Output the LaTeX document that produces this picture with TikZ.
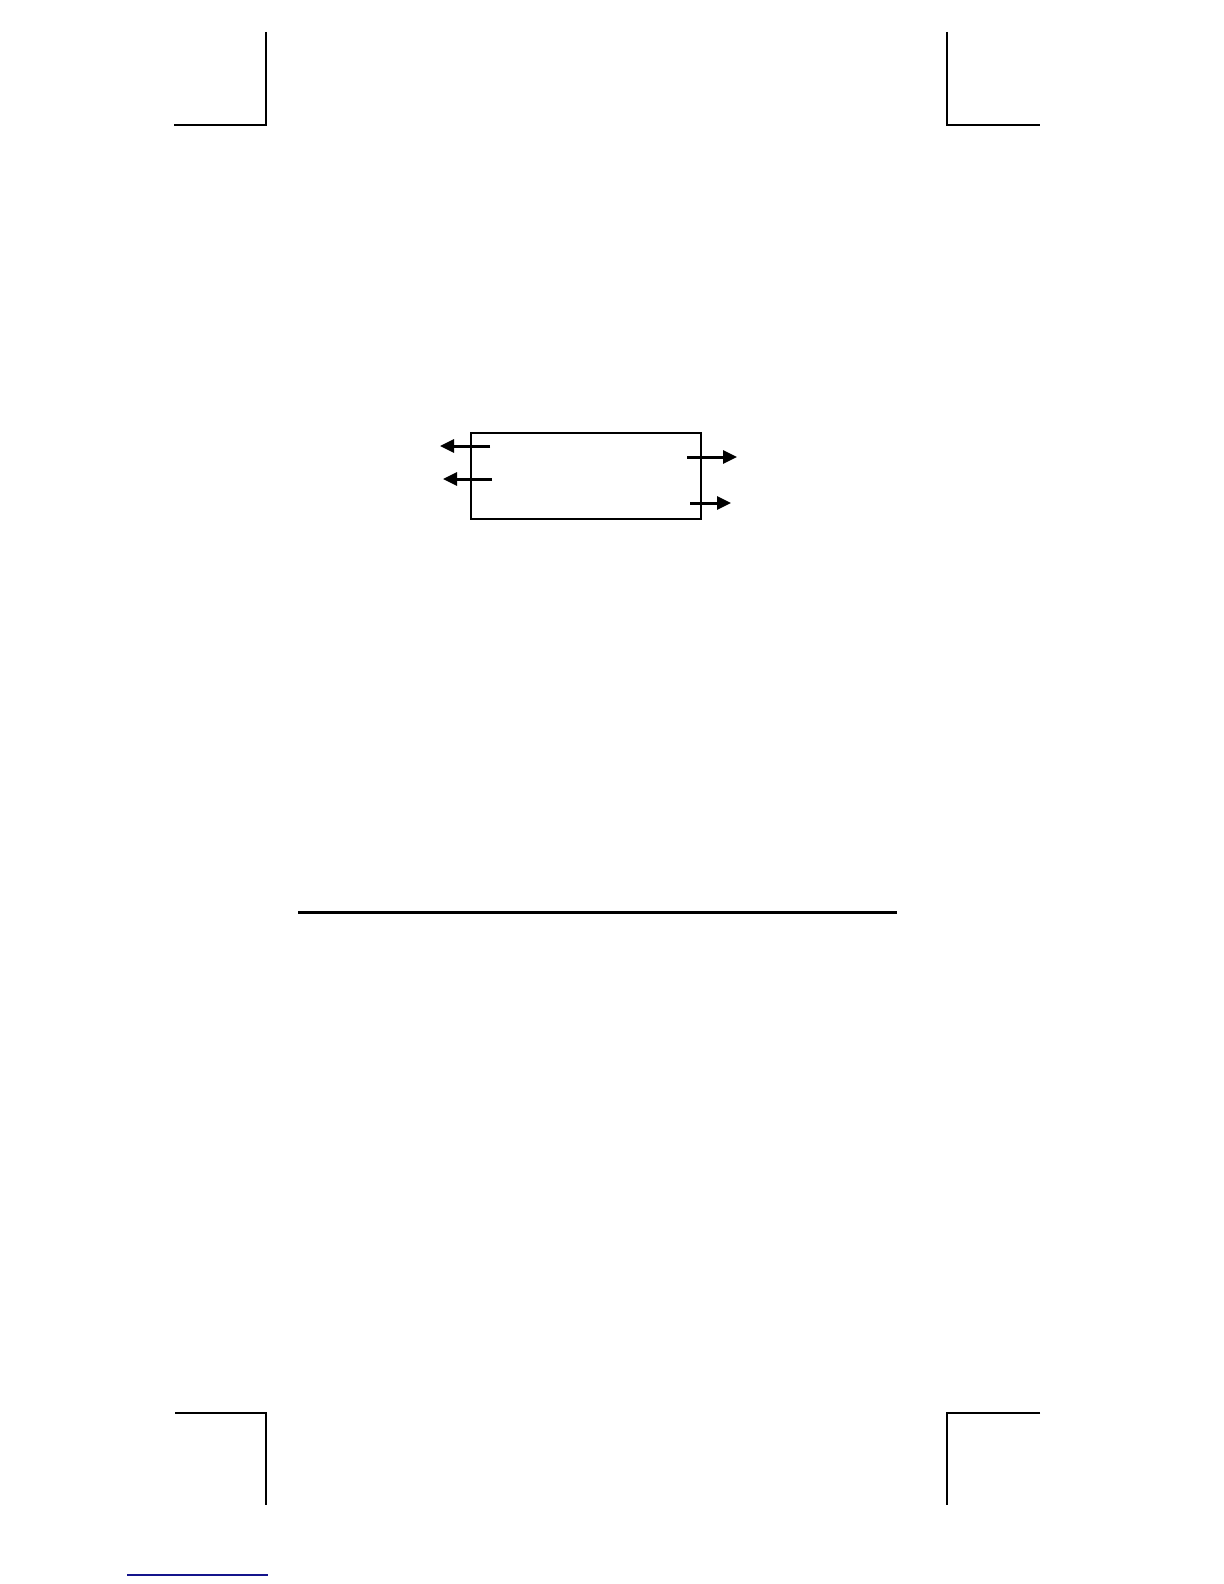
\documentclass[tikz,border=0pt]{standalone}
\usetikzlibrary{arrows.meta}
\definecolor{linkblue}{RGB}{20,20,140}
\begin{document}
\begin{tikzpicture}[x=0.5pt,y=-0.5pt,
  crop/.style={line width=1pt},
  flow/.style={line width=1.5pt,-{Triangle[length=7pt,width=6.5pt]}},
  panel/.style={draw,line width=0.75pt,minimum width=115pt,minimum height=43pt,inner sep=0pt}]
\useasboundingbox (0,0) rectangle (1224,1584);
% crop marks
\draw[crop] (266,32) -- (266,125) -- (174,125);
\draw[crop] (947,32) -- (947,125) -- (1040,125);
\draw[crop] (175,1413) -- (266,1413) -- (266,1505);
\draw[crop] (1040,1413) -- (947,1413) -- (947,1505);
% box
\node[panel] (box) at (586,476) {};
% arrows
\coordinate (l1s) at (490,446); \coordinate (l1e) at (440,446);
\coordinate (l2s) at (492,479); \coordinate (l2e) at (443,479);
\coordinate (r1s) at (687,457); \coordinate (r1e) at (737,457);
\coordinate (r2s) at (690,503); \coordinate (r2e) at (731,503);
\draw[flow] (l1s) -- (l1e);
\draw[flow] (l2s) -- (l2e);
\draw[flow] (r1s) -- (r1e);
\draw[flow] (r2s) -- (r2e);
% rule
\coordinate (ra) at (298,912); \coordinate (rb) at (897,912);
\draw[line width=1.5pt] (ra) -- (rb);
% blue line
\coordinate (ba) at (127,1575); \coordinate (bb) at (268,1575);
\draw[linkblue,line width=0.6pt] (ba) -- (bb);
\end{tikzpicture}
\end{document}
